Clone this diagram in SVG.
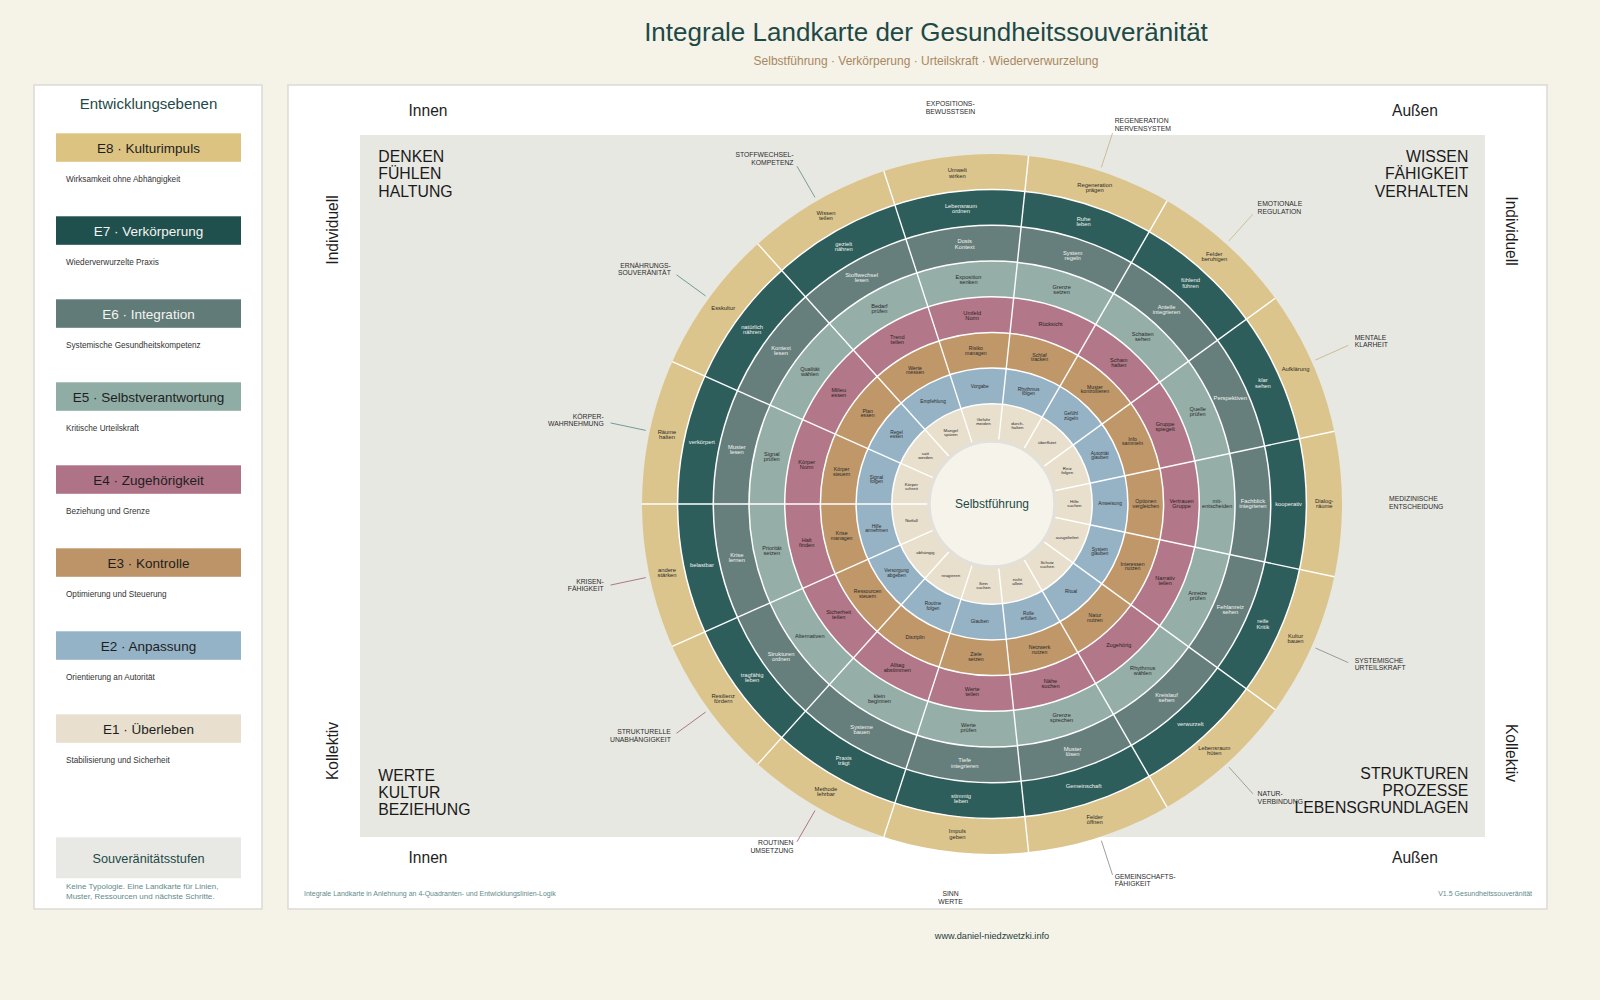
<svg xmlns="http://www.w3.org/2000/svg" width="1600" height="1000" viewBox="0 0 1600 1000">
<style>
text{font-family:'Liberation Sans',Arial,Helvetica,sans-serif}
.seg text{text-anchor:middle}
.r1 text{font-size:4.4px;fill:#2b2b2b}
.r2 text{font-size:4.8px;fill:#2b2b2b}
.r3 text{font-size:5.2px;fill:#2b2b2b}
.r4 text{font-size:5.6px;fill:#2a1f23}
.r5 text{font-size:5.6px;fill:#2b2b2b}
.r6 text{font-size:5.8px;fill:#f2f2ef}
.r7 text{font-size:5.8px;fill:#f2f2ef}
.r8 text{font-size:5.8px;fill:#2b2b2b}
.per text{font-size:6.8px;fill:#2a2a2a}
.sep line{stroke:#ffffff;stroke-width:1.4}
.ring{stroke:#ffffff;stroke-width:1.5}
.lead line{stroke-width:0.8}
.box{stroke:none}
.bt{font-size:13.5px;text-anchor:middle}
.bd{font-size:8.2px;fill:#333333}
.axis{font-size:15.6px;fill:#1e1e1e}
.quad{font-size:15.8px;fill:#1a1a1a}
</style>
<rect x="0" y="0" width="1600" height="1000" fill="#f5f2e8"/>

<g id="title">
<text x="926" y="41" font-size="26" fill="#1d4a47" text-anchor="middle">Integrale Landkarte der Gesundheitssouveränität</text>
<text x="926" y="65" font-size="12" fill="#a8885f" text-anchor="middle">Selbstführung · Verkörperung · Urteilskraft · Wiederverwurzelung</text>
</g>

<g id="legend">
<rect x="34" y="85" width="228" height="824" fill="#ffffff" stroke="#dcdad2" stroke-width="1.5"/>
<text x="148.5" y="109.3" font-size="15" fill="#1d4a47" text-anchor="middle">Entwicklungsebenen</text>
<g id="legend-e8"><rect class="box" x="56" y="133.3" width="185" height="28.5" fill="#dcc382"/><text class="bt" x="148.5" y="152.7" fill="#1e1e1e">E8 · Kulturimpuls</text><text class="bd" x="66" y="181.7">Wirksamkeit ohne Abhängigkeit</text></g>
<g id="legend-e7"><rect class="box" x="56" y="216.3" width="185" height="28.5" fill="#1f504e"/><text class="bt" x="148.5" y="235.7" fill="#f4f4f0">E7 · Verkörperung</text><text class="bd" x="66" y="264.7">Wiederverwurzelte Praxis</text></g>
<g id="legend-e6"><rect class="box" x="56" y="299.3" width="185" height="28.5" fill="#607b78"/><text class="bt" x="148.5" y="318.7" fill="#f4f4f0">E6 · Integration</text><text class="bd" x="66" y="347.7">Systemische Gesundheitskompetenz</text></g>
<g id="legend-e5"><rect class="box" x="56" y="382.3" width="185" height="28.5" fill="#8fada5"/><text class="bt" x="148.5" y="401.7" fill="#1e1e1e">E5 · Selbstverantwortung</text><text class="bd" x="66" y="430.7">Kritische Urteilskraft</text></g>
<g id="legend-e4"><rect class="box" x="56" y="465.3" width="185" height="28.5" fill="#ae7386"/><text class="bt" x="148.5" y="484.7" fill="#1e1e1e">E4 · Zugehörigkeit</text><text class="bd" x="66" y="513.7">Beziehung und Grenze</text></g>
<g id="legend-e3"><rect class="box" x="56" y="548.3" width="185" height="28.5" fill="#bd9468"/><text class="bt" x="148.5" y="567.7" fill="#1e1e1e">E3 · Kontrolle</text><text class="bd" x="66" y="596.7">Optimierung und Steuerung</text></g>
<g id="legend-e2"><rect class="box" x="56" y="631.3" width="185" height="28.5" fill="#94b3c6"/><text class="bt" x="148.5" y="650.7" fill="#1e1e1e">E2 · Anpassung</text><text class="bd" x="66" y="679.7">Orientierung an Autorität</text></g>
<g id="legend-e1"><rect class="box" x="56" y="714.3" width="185" height="28.5" fill="#e8dfce"/><text class="bt" x="148.5" y="733.7" fill="#1e1e1e">E1 · Überleben</text><text class="bd" x="66" y="762.7">Stabilisierung und Sicherheit</text></g>
<g id="legend-stufen"><rect class="box" x="56" y="837.3" width="185" height="41" fill="#e8e8e4"/><text x="148.5" y="863.3" font-size="12.7" fill="#1d4a47" text-anchor="middle">Souveränitätsstufen</text>
<text x="66" y="889.3" font-size="8" fill="#5f8b89">Keine Typologie. Eine Landkarte für Linien,</text>
<text x="66" y="898.7" font-size="8" fill="#5f8b89">Muster, Ressourcen und nächste Schritte.</text></g>
</g>

<g id="main-panel">
<rect x="288" y="85" width="1259" height="824" fill="#ffffff" stroke="#dcdad2" stroke-width="1.5"/>
<rect x="360" y="135" width="1125" height="702" fill="#e8e8e3"/>
<text class="axis" x="428" y="116" text-anchor="middle">Innen</text>
<text class="axis" x="1415" y="116" text-anchor="middle">Außen</text>
<text class="axis" x="428" y="863.3" text-anchor="middle">Innen</text>
<text class="axis" x="1415" y="863.3" text-anchor="middle">Außen</text>
<text class="axis" transform="translate(338,230) rotate(-90)" text-anchor="middle">Individuell</text>
<text class="axis" transform="translate(338,751) rotate(-90)" text-anchor="middle">Kollektiv</text>
<text class="axis" transform="translate(1506,231) rotate(90)" text-anchor="middle">Individuell</text>
<text class="axis" transform="translate(1506,753) rotate(90)" text-anchor="middle">Kollektiv</text>
<text class="quad" x="378.3"><tspan x="378.3" y="162.3">DENKEN</tspan><tspan x="378.3" y="179.3">FÜHLEN</tspan><tspan x="378.3" y="196.7">HALTUNG</tspan></text>
<text class="quad" text-anchor="end"><tspan x="1468.3" y="162.3">WISSEN</tspan><tspan x="1468.3" y="179.3">FÄHIGKEIT</tspan><tspan x="1468.3" y="196.7">VERHALTEN</tspan></text>
<text class="quad"><tspan x="378.3" y="780.5">WERTE</tspan><tspan x="378.3" y="797.5">KULTUR</tspan><tspan x="378.3" y="814.8">BEZIEHUNG</tspan></text>
<text class="quad" text-anchor="end"><tspan x="1468.3" y="778.5">STRUKTUREN</tspan><tspan x="1468.3" y="795.5">PROZESSE</tspan><tspan x="1468.3" y="812.8">LEBENSGRUNDLAGEN</tspan></text>
<text x="304" y="896" font-size="7" fill="#5f8b89">Integrale Landkarte in Anlehnung an 4-Quadranten- und Entwicklungslinien-Logik</text>
<text x="1532" y="896" font-size="7" fill="#5f8b89" text-anchor="end">V1.5 Gesundheitssouveränität</text>
</g>

<g id="wheel" transform="translate(992,504)">
<circle r="350" fill="#dcc58c"/>
<circle class="ring" r="314.4" fill="#2e5e5c"/>
<circle class="ring" r="278.7" fill="#677f7c"/>
<circle class="ring" r="243" fill="#95aea8"/>
<circle class="ring" r="207.3" fill="#b27789"/>
<circle class="ring" r="171.6" fill="#bf9769"/>
<circle class="ring" r="135.9" fill="#96b3c6"/>
<circle class="ring" r="100.2" fill="#e8dfcd"/>
<g class="sep">
<line x1="64" y1="0" x2="350" y2="0" transform="rotate(-12)"/>
<line x1="64" y1="0" x2="350" y2="0" transform="rotate(-36)"/>
<line x1="64" y1="0" x2="350" y2="0" transform="rotate(-60)"/>
<line x1="64" y1="0" x2="350" y2="0" transform="rotate(-84)"/>
<line x1="64" y1="0" x2="350" y2="0" transform="rotate(-108)"/>
<line x1="64" y1="0" x2="350" y2="0" transform="rotate(-132)"/>
<line x1="64" y1="0" x2="350" y2="0" transform="rotate(-156)"/>
<line x1="64" y1="0" x2="350" y2="0" transform="rotate(-180)"/>
<line x1="64" y1="0" x2="350" y2="0" transform="rotate(-204)"/>
<line x1="64" y1="0" x2="350" y2="0" transform="rotate(-228)"/>
<line x1="64" y1="0" x2="350" y2="0" transform="rotate(-252)"/>
<line x1="64" y1="0" x2="350" y2="0" transform="rotate(-276)"/>
<line x1="64" y1="0" x2="350" y2="0" transform="rotate(-300)"/>
<line x1="64" y1="0" x2="350" y2="0" transform="rotate(-324)"/>
<line x1="64" y1="0" x2="350" y2="0" transform="rotate(-348)"/>
</g>
<g id="center-node">
<circle r="63" fill="#f6f3ea" stroke="#e2e0d9" stroke-width="3.5"/>
<text x="0" y="4" font-size="12" fill="#1d4a47" text-anchor="middle">Selbstführung</text>
</g>

<g id="ring-e1" class="seg r1">
<text transform="translate(82.4,0)"><tspan x="0" y="-0.9">Hilfe</tspan><tspan x="0" y="3.1">suchen</tspan></text>
<text transform="translate(75.2,-33.5)"><tspan x="0" y="-0.9">Reiz</tspan><tspan x="0" y="3.1">folgen</tspan></text>
<text transform="translate(55.1,-61.2)" y="1.3">überflutet</text>
<text transform="translate(25.4,-78.3)"><tspan x="0" y="-0.9">durch-</tspan><tspan x="0" y="3.1">halten</tspan></text>
<text transform="translate(-8.6,-81.9)"><tspan x="0" y="-0.9">Gefahr</tspan><tspan x="0" y="3.1">meiden</tspan></text>
<text transform="translate(-41.2,-71.3)"><tspan x="0" y="-0.9">Mangel</tspan><tspan x="0" y="3.1">spüren</tspan></text>
<text transform="translate(-66.6,-48.4)"><tspan x="0" y="-0.9">satt</tspan><tspan x="0" y="3.1">werden</tspan></text>
<text transform="translate(-80.6,-17.1)"><tspan x="0" y="-0.9">Körper</tspan><tspan x="0" y="3.1">schreit</tspan></text>
<text transform="translate(-80.6,17.1)" y="1.3">Notfall</text>
<text transform="translate(-66.6,48.4)" y="1.3">abhängig</text>
<text transform="translate(-41.2,71.3)" y="1.3">reagieren</text>
<text transform="translate(-8.6,81.9)"><tspan x="0" y="-0.9">Sinn</tspan><tspan x="0" y="3.1">suchen</tspan></text>
<text transform="translate(25.4,78.3)"><tspan x="0" y="-0.9">nicht</tspan><tspan x="0" y="3.1">allein</tspan></text>
<text transform="translate(55.1,61.2)"><tspan x="0" y="-0.9">Schutz</tspan><tspan x="0" y="3.1">suchen</tspan></text>
<text transform="translate(75.2,33.5)" y="1.3">ausgeliefert</text>
</g>

<g id="ring-e2" class="seg r2">
<text transform="translate(118.1,0)" y="1.4">Anweisung</text>
<text transform="translate(107.8,-48)"><tspan x="0" y="-1">Autorität</tspan><tspan x="0" y="3.4">glauben</tspan></text>
<text transform="translate(79,-87.7)"><tspan x="0" y="-1">Gefühl</tspan><tspan x="0" y="3.4">zügeln</tspan></text>
<text transform="translate(36.5,-112.3)"><tspan x="0" y="-1">Rhythmus</tspan><tspan x="0" y="3.4">folgen</tspan></text>
<text transform="translate(-12.3,-117.4)" y="1.4">Vorgabe</text>
<text transform="translate(-59,-102.2)" y="1.4">Empfehlung</text>
<text transform="translate(-95.5,-69.4)"><tspan x="0" y="-1">Regel</tspan><tspan x="0" y="3.4">essen</tspan></text>
<text transform="translate(-115.5,-24.5)"><tspan x="0" y="-1">Signal</tspan><tspan x="0" y="3.4">folgen</tspan></text>
<text transform="translate(-115.5,24.5)"><tspan x="0" y="-1">Hilfe</tspan><tspan x="0" y="3.4">annehmen</tspan></text>
<text transform="translate(-95.5,69.4)"><tspan x="0" y="-1">Versorgung</tspan><tspan x="0" y="3.4">abgeben</tspan></text>
<text transform="translate(-59,102.2)"><tspan x="0" y="-1">Routine</tspan><tspan x="0" y="3.4">folgen</tspan></text>
<text transform="translate(-12.3,117.4)" y="1.4">Glauben</text>
<text transform="translate(36.5,112.3)"><tspan x="0" y="-1">Rolle</tspan><tspan x="0" y="3.4">erfüllen</tspan></text>
<text transform="translate(79,87.7)" y="1.4">Ritual</text>
<text transform="translate(107.8,48)"><tspan x="0" y="-1">System</tspan><tspan x="0" y="3.4">glauben</tspan></text>
</g>

<g id="ring-e3" class="seg r3">
<text transform="translate(153.8,0)"><tspan x="0" y="-1">Optionen</tspan><tspan x="0" y="3.6">vergleichen</tspan></text>
<text transform="translate(140.5,-62.5)"><tspan x="0" y="-1">Info</tspan><tspan x="0" y="3.6">sammeln</tspan></text>
<text transform="translate(102.9,-114.3)"><tspan x="0" y="-1">Muster</tspan><tspan x="0" y="3.6">kontrollieren</tspan></text>
<text transform="translate(47.5,-146.2)"><tspan x="0" y="-1">Schlaf</tspan><tspan x="0" y="3.6">tracken</tspan></text>
<text transform="translate(-16.1,-152.9)"><tspan x="0" y="-1">Risiko</tspan><tspan x="0" y="3.6">managen</tspan></text>
<text transform="translate(-76.9,-133.2)"><tspan x="0" y="-1">Werte</tspan><tspan x="0" y="3.6">messen</tspan></text>
<text transform="translate(-124.4,-90.4)"><tspan x="0" y="-1">Plan</tspan><tspan x="0" y="3.6">essen</tspan></text>
<text transform="translate(-150.4,-32)"><tspan x="0" y="-1">Körper</tspan><tspan x="0" y="3.6">steuern</tspan></text>
<text transform="translate(-150.4,32)"><tspan x="0" y="-1">Krise</tspan><tspan x="0" y="3.6">managen</tspan></text>
<text transform="translate(-124.4,90.4)"><tspan x="0" y="-1">Ressourcen</tspan><tspan x="0" y="3.6">steuern</tspan></text>
<text transform="translate(-76.9,133.2)" y="1.6">Disziplin</text>
<text transform="translate(-16.1,152.9)"><tspan x="0" y="-1">Ziele</tspan><tspan x="0" y="3.6">setzen</tspan></text>
<text transform="translate(47.5,146.2)"><tspan x="0" y="-1">Netzwerk</tspan><tspan x="0" y="3.6">nutzen</tspan></text>
<text transform="translate(102.9,114.3)"><tspan x="0" y="-1">Natur</tspan><tspan x="0" y="3.6">nutzen</tspan></text>
<text transform="translate(140.5,62.5)"><tspan x="0" y="-1">Interessen</tspan><tspan x="0" y="3.6">nutzen</tspan></text>
</g>

<g id="ring-e4" class="seg r4">
<text transform="translate(189.5,0)"><tspan x="0" y="-1.1">Vertrauen</tspan><tspan x="0" y="3.9">Gruppe</tspan></text>
<text transform="translate(173.1,-77.1)"><tspan x="0" y="-1.1">Gruppe</tspan><tspan x="0" y="3.9">spiegelt</tspan></text>
<text transform="translate(126.8,-140.8)"><tspan x="0" y="-1.1">Scham</tspan><tspan x="0" y="3.9">halten</tspan></text>
<text transform="translate(58.5,-180.2)" y="1.7">Rücksicht</text>
<text transform="translate(-19.8,-188.4)"><tspan x="0" y="-1.1">Umfeld</tspan><tspan x="0" y="3.9">Norm</tspan></text>
<text transform="translate(-94.7,-164.1)"><tspan x="0" y="-1.1">Trend</tspan><tspan x="0" y="3.9">teilen</tspan></text>
<text transform="translate(-153.3,-111.4)"><tspan x="0" y="-1.1">Milieu</tspan><tspan x="0" y="3.9">essen</tspan></text>
<text transform="translate(-185.3,-39.4)"><tspan x="0" y="-1.1">Körper</tspan><tspan x="0" y="3.9">Norm</tspan></text>
<text transform="translate(-185.3,39.4)"><tspan x="0" y="-1.1">Halt</tspan><tspan x="0" y="3.9">finden</tspan></text>
<text transform="translate(-153.3,111.4)"><tspan x="0" y="-1.1">Sicherheit</tspan><tspan x="0" y="3.9">teilen</tspan></text>
<text transform="translate(-94.7,164.1)"><tspan x="0" y="-1.1">Alltag</tspan><tspan x="0" y="3.9">abstimmen</tspan></text>
<text transform="translate(-19.8,188.4)"><tspan x="0" y="-1.1">Werte</tspan><tspan x="0" y="3.9">teilen</tspan></text>
<text transform="translate(58.5,180.2)"><tspan x="0" y="-1.1">Nähe</tspan><tspan x="0" y="3.9">suchen</tspan></text>
<text transform="translate(126.8,140.8)" y="1.7">Zugehörig</text>
<text transform="translate(173.1,77.1)"><tspan x="0" y="-1.1">Narrativ</tspan><tspan x="0" y="3.9">teilen</tspan></text>
</g>

<g id="ring-e5" class="seg r5">
<text transform="translate(225.2,0)"><tspan x="0" y="-1.1">mit-</tspan><tspan x="0" y="3.9">entscheiden</tspan></text>
<text transform="translate(205.7,-91.6)"><tspan x="0" y="-1.1">Quelle</tspan><tspan x="0" y="3.9">prüfen</tspan></text>
<text transform="translate(150.7,-167.3)"><tspan x="0" y="-1.1">Schatten</tspan><tspan x="0" y="3.9">sehen</tspan></text>
<text transform="translate(69.6,-214.1)"><tspan x="0" y="-1.1">Grenze</tspan><tspan x="0" y="3.9">setzen</tspan></text>
<text transform="translate(-23.5,-223.9)"><tspan x="0" y="-1.1">Exposition</tspan><tspan x="0" y="3.9">senken</tspan></text>
<text transform="translate(-112.6,-195)"><tspan x="0" y="-1.1">Bedarf</tspan><tspan x="0" y="3.9">prüfen</tspan></text>
<text transform="translate(-182.2,-132.3)"><tspan x="0" y="-1.1">Qualität</tspan><tspan x="0" y="3.9">wählen</tspan></text>
<text transform="translate(-220.2,-46.8)"><tspan x="0" y="-1.1">Signal</tspan><tspan x="0" y="3.9">prüfen</tspan></text>
<text transform="translate(-220.2,46.8)"><tspan x="0" y="-1.1">Priorität</tspan><tspan x="0" y="3.9">setzen</tspan></text>
<text transform="translate(-182.2,132.3)" y="1.7">Alternativen</text>
<text transform="translate(-112.6,195)"><tspan x="0" y="-1.1">klein</tspan><tspan x="0" y="3.9">beginnen</tspan></text>
<text transform="translate(-23.5,223.9)"><tspan x="0" y="-1.1">Werte</tspan><tspan x="0" y="3.9">prüfen</tspan></text>
<text transform="translate(69.6,214.1)"><tspan x="0" y="-1.1">Grenze</tspan><tspan x="0" y="3.9">sprechen</tspan></text>
<text transform="translate(150.7,167.3)"><tspan x="0" y="-1.1">Rhythmus</tspan><tspan x="0" y="3.9">wählen</tspan></text>
<text transform="translate(205.7,91.6)"><tspan x="0" y="-1.1">Anreize</tspan><tspan x="0" y="3.9">prüfen</tspan></text>
</g>

<g id="ring-e6" class="seg r6">
<text transform="translate(260.9,0)"><tspan x="0" y="-1.2">Fachblick</tspan><tspan x="0" y="4.1">integrieren</tspan></text>
<text transform="translate(238.3,-106.1)" y="1.7">Perspektiven</text>
<text transform="translate(174.5,-193.9)"><tspan x="0" y="-1.2">Anteile</tspan><tspan x="0" y="4.1">integrieren</tspan></text>
<text transform="translate(80.6,-248.1)"><tspan x="0" y="-1.2">System</tspan><tspan x="0" y="4.1">regeln</tspan></text>
<text transform="translate(-27.3,-259.4)"><tspan x="0" y="-1.2">Dosis</tspan><tspan x="0" y="4.1">Kontext</tspan></text>
<text transform="translate(-130.4,-225.9)"><tspan x="0" y="-1.2">Stoffwechsel</tspan><tspan x="0" y="4.1">lesen</tspan></text>
<text transform="translate(-211,-153.3)"><tspan x="0" y="-1.2">Kontext</tspan><tspan x="0" y="4.1">lesen</tspan></text>
<text transform="translate(-255.2,-54.2)"><tspan x="0" y="-1.2">Muster</tspan><tspan x="0" y="4.1">lesen</tspan></text>
<text transform="translate(-255.2,54.2)"><tspan x="0" y="-1.2">Krise</tspan><tspan x="0" y="4.1">lernen</tspan></text>
<text transform="translate(-211,153.3)"><tspan x="0" y="-1.2">Strukturen</tspan><tspan x="0" y="4.1">ordnen</tspan></text>
<text transform="translate(-130.4,225.9)"><tspan x="0" y="-1.2">Systeme</tspan><tspan x="0" y="4.1">bauen</tspan></text>
<text transform="translate(-27.3,259.4)"><tspan x="0" y="-1.2">Tiefe</tspan><tspan x="0" y="4.1">integrieren</tspan></text>
<text transform="translate(80.6,248.1)"><tspan x="0" y="-1.2">Muster</tspan><tspan x="0" y="4.1">lösen</tspan></text>
<text transform="translate(174.5,193.9)"><tspan x="0" y="-1.2">Kreislauf</tspan><tspan x="0" y="4.1">sehen</tspan></text>
<text transform="translate(238.3,106.1)"><tspan x="0" y="-1.2">Fehlanreiz</tspan><tspan x="0" y="4.1">sehen</tspan></text>
</g>

<g id="ring-e7" class="seg r7">
<text transform="translate(296.6,0)" y="1.7">kooperativ</text>
<text transform="translate(270.9,-120.6)"><tspan x="0" y="-1.2">klar</tspan><tspan x="0" y="4.1">sehen</tspan></text>
<text transform="translate(198.4,-220.4)"><tspan x="0" y="-1.2">fühlend</tspan><tspan x="0" y="4.1">führen</tspan></text>
<text transform="translate(91.6,-282)"><tspan x="0" y="-1.2">Ruhe</tspan><tspan x="0" y="4.1">leben</tspan></text>
<text transform="translate(-31,-294.9)"><tspan x="0" y="-1.2">Lebensraum</tspan><tspan x="0" y="4.1">ordnen</tspan></text>
<text transform="translate(-148.3,-256.8)"><tspan x="0" y="-1.2">gezielt</tspan><tspan x="0" y="4.1">nähren</tspan></text>
<text transform="translate(-239.9,-174.3)"><tspan x="0" y="-1.2">natürlich</tspan><tspan x="0" y="4.1">nähren</tspan></text>
<text transform="translate(-290.1,-61.7)" y="1.7">verkörpert</text>
<text transform="translate(-290.1,61.7)" y="1.7">belastbar</text>
<text transform="translate(-239.9,174.3)"><tspan x="0" y="-1.2">tragfähig</tspan><tspan x="0" y="4.1">leben</tspan></text>
<text transform="translate(-148.3,256.8)"><tspan x="0" y="-1.2">Praxis</tspan><tspan x="0" y="4.1">trägt</tspan></text>
<text transform="translate(-31,294.9)"><tspan x="0" y="-1.2">stimmig</tspan><tspan x="0" y="4.1">leben</tspan></text>
<text transform="translate(91.6,282)" y="1.7">Gemeinschaft</text>
<text transform="translate(198.4,220.4)" y="1.7">verwurzelt</text>
<text transform="translate(270.9,120.6)"><tspan x="0" y="-1.2">reife</tspan><tspan x="0" y="4.1">Kritik</tspan></text>
</g>

<g id="ring-e8" class="seg r8">
<text transform="translate(332.3,0)"><tspan x="0" y="-1.2">Dialog-</tspan><tspan x="0" y="4.1">räume</tspan></text>
<text transform="translate(303.5,-135.1)" y="1.7">Aufklärung</text>
<text transform="translate(222.3,-246.9)"><tspan x="0" y="-1.2">Felder</tspan><tspan x="0" y="4.1">beruhigen</tspan></text>
<text transform="translate(102.7,-316)"><tspan x="0" y="-1.2">Regeneration</tspan><tspan x="0" y="4.1">prägen</tspan></text>
<text transform="translate(-34.7,-330.4)"><tspan x="0" y="-1.2">Umwelt</tspan><tspan x="0" y="4.1">wirken</tspan></text>
<text transform="translate(-166.1,-287.7)"><tspan x="0" y="-1.2">Wissen</tspan><tspan x="0" y="4.1">teilen</tspan></text>
<text transform="translate(-268.8,-195.3)" y="1.7">Esskultur</text>
<text transform="translate(-325,-69.1)"><tspan x="0" y="-1.2">Räume</tspan><tspan x="0" y="4.1">halten</tspan></text>
<text transform="translate(-325,69.1)"><tspan x="0" y="-1.2">andere</tspan><tspan x="0" y="4.1">stärken</tspan></text>
<text transform="translate(-268.8,195.3)"><tspan x="0" y="-1.2">Resilienz</tspan><tspan x="0" y="4.1">fördern</tspan></text>
<text transform="translate(-166.1,287.7)"><tspan x="0" y="-1.2">Methode</tspan><tspan x="0" y="4.1">lehrbar</tspan></text>
<text transform="translate(-34.7,330.4)"><tspan x="0" y="-1.2">Impuls</tspan><tspan x="0" y="4.1">geben</tspan></text>
<text transform="translate(102.7,316)"><tspan x="0" y="-1.2">Felder</tspan><tspan x="0" y="4.1">öffnen</tspan></text>
<text transform="translate(222.3,246.9)"><tspan x="0" y="-1.2">Lebensraum</tspan><tspan x="0" y="4.1">hüten</tspan></text>
<text transform="translate(303.5,135.1)"><tspan x="0" y="-1.2">Kultur</tspan><tspan x="0" y="4.1">bauen</tspan></text>
</g>

<g id="connectors" class="lead">
<line x1="354" y1="0" x2="390" y2="0" transform="rotate(-24)" stroke="#c9b58f"/>
<line x1="354" y1="0" x2="390" y2="0" transform="rotate(-48)" stroke="#c9b58f"/>
<line x1="354" y1="0" x2="390" y2="0" transform="rotate(-72)" stroke="#c9b58f"/>
<line x1="354" y1="0" x2="390" y2="0" transform="rotate(-120)" stroke="#6f9290"/>
<line x1="354" y1="0" x2="390" y2="0" transform="rotate(-144)" stroke="#5f8f8c"/>
<line x1="354" y1="0" x2="390" y2="0" transform="rotate(-168)" stroke="#5f8f8c"/>
<line x1="354" y1="0" x2="390" y2="0" transform="rotate(-192)" stroke="#a4667a"/>
<line x1="354" y1="0" x2="390" y2="0" transform="rotate(-216)" stroke="#a4667a"/>
<line x1="354" y1="0" x2="390" y2="0" transform="rotate(-240)" stroke="#a4667a"/>
<line x1="354" y1="0" x2="390" y2="0" transform="rotate(-288)" stroke="#919191"/>
<line x1="354" y1="0" x2="390" y2="0" transform="rotate(-312)" stroke="#919191"/>
<line x1="354" y1="0" x2="390" y2="0" transform="rotate(-336)" stroke="#919191"/>
</g>

<g id="outer-labels" class="per">
<text><tspan x="397" y="-3">MEDIZINISCHE</tspan><tspan x="397" y="4.7">ENTSCHEIDUNG</tspan></text>
<text><tspan x="362.7" y="-164.5">MENTALE</tspan><tspan x="362.7" y="-156.8">KLARHEIT</tspan></text>
<text><tspan x="265.6" y="-298">EMOTIONALE</tspan><tspan x="265.6" y="-290.3">REGULATION</tspan></text>
<text><tspan x="122.7" y="-380.6">REGENERATION</tspan><tspan x="122.7" y="-372.9">NERVENSYSTEM</tspan></text>
<text text-anchor="middle"><tspan x="-41.5" y="-397.8">EXPOSITIONS-</tspan><tspan x="-41.5" y="-390.1">BEWUSSTSEIN</tspan></text>
<text text-anchor="end"><tspan x="-198.5" y="-346.8">STOFFWECHSEL-</tspan><tspan x="-198.5" y="-339.1">KOMPETENZ</tspan></text>
<text text-anchor="end"><tspan x="-321.2" y="-236.4">ERNÄHRUNGS-</tspan><tspan x="-321.2" y="-228.7">SOUVERÄNITÄT</tspan></text>
<text text-anchor="end"><tspan x="-388.3" y="-85.5">KÖRPER-</tspan><tspan x="-388.3" y="-77.8">WAHRNEHMUNG</tspan></text>
<text text-anchor="end"><tspan x="-388.3" y="79.5">KRISEN-</tspan><tspan x="-388.3" y="87.2">FÄHIGKEIT</tspan></text>
<text text-anchor="end"><tspan x="-321.2" y="230.4">STRUKTURELLE</tspan><tspan x="-321.2" y="238.1">UNABHÄNGIGKEIT</tspan></text>
<text text-anchor="end"><tspan x="-198.5" y="340.8">ROUTINEN</tspan><tspan x="-198.5" y="348.5">UMSETZUNG</tspan></text>
<text text-anchor="middle"><tspan x="-41.5" y="391.8">SINN</tspan><tspan x="-41.5" y="399.5">WERTE</tspan></text>
<text><tspan x="122.7" y="374.6">GEMEINSCHAFTS-</tspan><tspan x="122.7" y="382.3">FÄHIGKEIT</tspan></text>
<text><tspan x="265.6" y="292">NATUR-</tspan><tspan x="265.6" y="299.7">VERBINDUNG</tspan></text>
<text><tspan x="362.7" y="158.5">SYSTEMISCHE</tspan><tspan x="362.7" y="166.2">URTEILSKRAFT</tspan></text>
</g>
</g>

<text x="992" y="939" font-size="9.2" fill="#1d3d3b" text-anchor="middle">www.daniel-niedzwetzki.info</text>
</svg>
